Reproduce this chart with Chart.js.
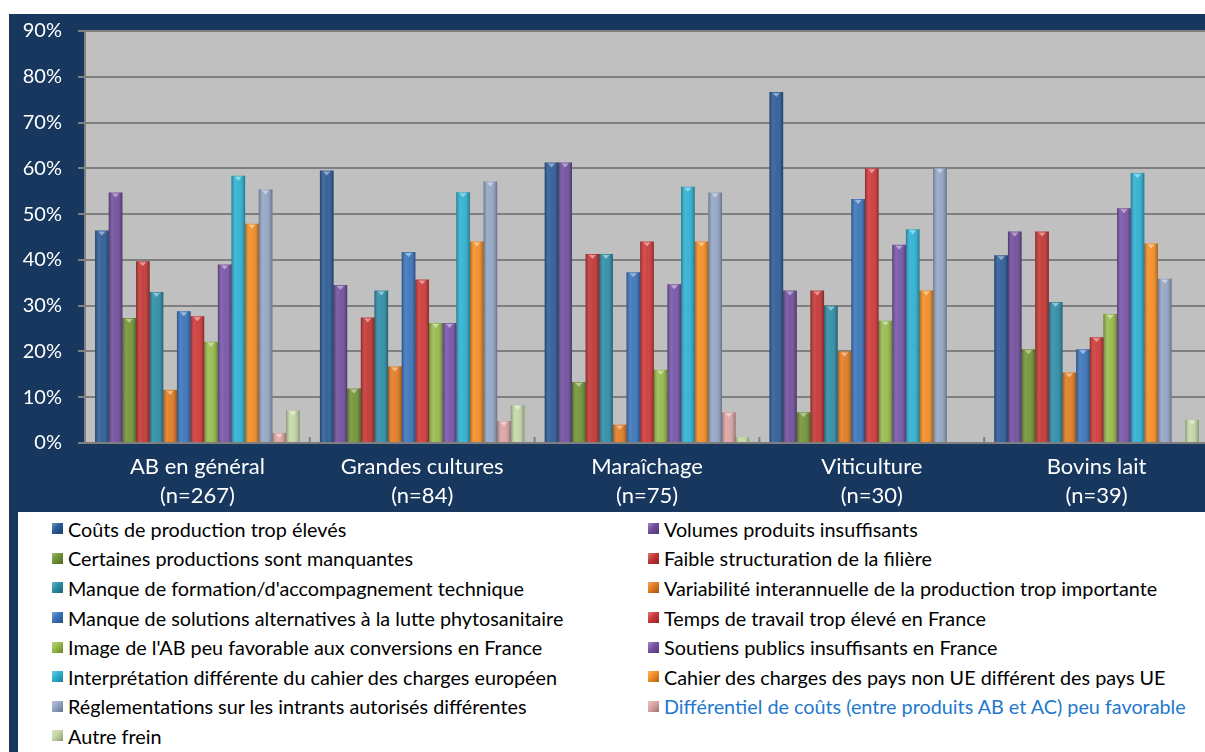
<!DOCTYPE html>
<html lang="fr">
<head>
<meta charset="utf-8">
<title>Freins à la conversion en AB</title>
<script src="https://cdn.jsdelivr.net/npm/chart.js@4.4.1/dist/chart.umd.min.js"></script>
<style>
  html, body { margin: 0; padding: 0; width: 1205px; height: 752px; overflow: hidden; background: #fff; }
  body { position: relative; font-family: Lato, "Open Sans", sans-serif; }
  #panel { position: absolute; left: 9px; top: 14px; width: 1200px; height: 498px; background: #17375e; }
  #strip { position: absolute; left: 9px; top: 512px; width: 9px; height: 240px; background: #17375e; }
  #chart { position: absolute; left: 0; top: 0; }
  #legend {
    position: absolute; left: 52px; top: 514px;
    display: grid; grid-template-columns: 596px 560px; grid-auto-rows: 29.6px;
    font-size: 19.8px; color: #000;
  }
  .item { display: flex; align-items: center; white-space: nowrap; }
  .box { width: 11px; height: 11px; margin-right: 5px; flex: none; }
</style>
</head>
<body>
<div id="panel"><canvas id="chart" width="1200" height="498"></canvas></div>
<div id="strip"></div>
<div id="legend"></div>

<script>
// categories (two-line labels)
var categories = [
  ['AB en général', '(n=267)'],
  ['Grandes cultures', '(n=84)'],
  ['Maraîchage', '(n=75)'],
  ['Viticulture', '(n=30)'],
  ['Bovins lait', '(n=39)']
]

var freins = [
  'Coûts de production trop élevés',
  'Volumes produits insuffisants',
  'Certaines productions sont manquantes',
  'Faible structuration de la filière',
  "Manque de formation/d'accompagnement technique",
  'Variabilité interannuelle de la production trop importante',
  'Manque de solutions alternatives à la lutte phytosanitaire',
  'Temps de travail trop élevé en France',
  "Image de l'AB peu favorable aux conversions en France",
  'Soutiens publics insuffisants en France',
  'Interprétation différente du cahier des charges européen',
  'Cahier des charges des pays non UE différent des pays UE',
  'Réglementations sur les intrants autorisés différentes',
  'Différentiel de coûts (entre produits AB et AC) peu favorable',
  'Autre frein'
]

// % de réponses par filière, dans l'ordre des freins
var abGeneral       = [46.4, 54.7, 27.3, 39.7, 33.0, 11.6, 28.8, 27.7, 22.1, 39.0, 58.4, 47.9, 55.4, 2.2, 7.1]
var grandesCultures = [59.5, 34.5, 11.9, 27.4, 33.3, 16.7, 41.7, 35.7, 26.2, 26.2, 54.8, 44.0, 57.1, 4.8, 8.3]
var maraichage      = [61.3, 61.3, 13.3, 41.3, 41.3, 4.0, 37.3, 44.0, 16.0, 34.7, 56.0, 44.0, 54.7, 6.7, 1.3]
var viticulture     = [76.7, 33.3, 6.7, 33.3, 30.0, 20.0, 53.3, 60.0, 26.7, 43.3, 46.7, 33.3, 60.0, 0, 0]
var bovinsLait      = [41.0, 46.2, 20.5, 46.2, 30.8, 15.4, 20.5, 23.1, 28.2, 51.3, 59.0, 43.6, 35.9, 0, 5.1]

var yTicks = [0, 10, 20, 30, 40, 50, 60, 70, 80, 90]

var couleurs = [
  '#2a5a96', '#6f4c9c', '#6f9332', '#c23431', '#2b8ba6', '#e27a1f', '#3872bb', '#cf3636',
  '#95ba49', '#7652a8', '#2bb0d2', '#f38c22', '#92a4c4', '#dba2a2', '#c3d6a6'
]

var filieres = [abGeneral, grandesCultures, maraichage, viticulture, bovinsLait]

var datasets = []
var i = 0
while (i < freins.length) {
    var serie = []
    for (var f = 0; f < filieres.length; f++) {
        serie.push(filieres[f][i])
    }
    datasets.push({
        label: freins[i],
        data: serie,
        backgroundColor: couleurs[i],
        borderWidth: 0,
        categoryPercentage: 0.91,
        barPercentage: 1
    })
    i++
}

// fond gris de la zone de tracé + petits traits entre les filières
var fondGris = {
    id: 'fondGris',
    beforeDraw: function (chart) {
        var a = chart.chartArea
        var ctx = chart.ctx
        ctx.save()
        ctx.fillStyle = '#c0c0c0'
        ctx.fillRect(a.left, a.top, a.right - a.left, a.bottom - a.top)
        ctx.restore()
    },
    afterDraw: function (chart) {
        var a = chart.chartArea
        var ctx = chart.ctx
        var x = chart.scales.x
        ctx.save()
        ctx.strokeStyle = '#7f7f7f'
        ctx.lineWidth = 2
        for (var k = 1; k < categories.length; k++) {
            var px = (x.getPixelForValue(k - 1) + x.getPixelForValue(k)) / 2
            ctx.beginPath()
            ctx.moveTo(px, a.bottom - 6)
            ctx.lineTo(px, a.bottom)
            ctx.stroke()
        }
        ctx.restore()
    }
}

// effet cylindre sur les barres
var relief = {
    id: 'relief',
    afterDatasetsDraw: function (chart) {
        var ctx = chart.ctx
        var a = chart.chartArea
        ctx.save()
        ctx.beginPath()
        ctx.rect(a.left, a.top, a.right - a.left, a.bottom - a.top)
        ctx.clip()
        chart.data.datasets.forEach(function (ds, d) {
            chart.getDatasetMeta(d).data.forEach(function (bar) {
                var h = bar.base - bar.y
                if (h <= 0) return
                var left = bar.x - bar.width / 2
                var g = ctx.createLinearGradient(left, 0, left + bar.width, 0)
                g.addColorStop(0, 'rgba(0,0,0,0.30)')
                g.addColorStop(0.3, 'rgba(255,255,255,0.12)')
                g.addColorStop(0.55, 'rgba(255,255,255,0.06)')
                g.addColorStop(1, 'rgba(0,0,0,0.32)')
                ctx.fillStyle = g
                ctx.fillRect(left, bar.y, bar.width, h)
                // petit chapeau en haut de la barre
                if (h > 5) {
                    ctx.fillStyle = 'rgba(255,255,255,0.45)'
                    ctx.beginPath()
                    ctx.moveTo(bar.x - 3.5, bar.y + 1)
                    ctx.lineTo(bar.x + 3.5, bar.y + 1)
                    ctx.lineTo(bar.x, bar.y + 5)
                    ctx.closePath()
                    ctx.fill()
                }
            })
        })
        ctx.restore()
    }
}

var config = {
    type: 'bar',
    data: { labels: categories, datasets: datasets },
    options: {
        responsive: false,
        animation: false,
        layout: { padding: { top: 17, right: 0, left: 0, bottom: 0 } },
        plugins: { legend: { display: false }, tooltip: { enabled: false } },
        scales: {
            x: {
                grid: { display: false, drawTicks: false },
                border: { display: false },
                ticks: {
                    color: '#ffffff',
                    font: { family: 'Lato', size: 22, lineHeight: 1.32 },
                    padding: 9,
                    maxRotation: 0
                },
                afterFit: function (s) { s.height = 69 }
            },
            y: {
                min: 0,
                max: 90,
                afterBuildTicks: function (s) {
                    s.ticks = yTicks.map(function (v) { return { value: v } })
                },
                grid: { color: '#7f7f7f', lineWidth: 2, tickLength: 7 },
                border: { display: true, color: '#7f7f7f', width: 2 },
                ticks: {
                    color: '#ffffff',
                    font: { family: 'Lato', size: 20 },
                    padding: 16,
                    callback: function (v) { return v + '%' }
                },
                afterFit: function (s) {
                    s.width = 76
                    s.paddingTop = 0
                    s.paddingBottom = 0
                }
            }
        }
    },
    plugins: [fondGris, relief]
}

var myChart = new Chart(document.getElementById('chart'), config)

// légende sur deux colonnes
var legende = document.getElementById('legend')
freins.forEach(function (nom, k) {
    var item = document.createElement('div')
    item.className = 'item'
    var box = document.createElement('span')
    box.className = 'box'
    box.style.background = 'linear-gradient(135deg, rgba(255,255,255,0.35), rgba(255,255,255,0) 45%, rgba(0,0,0,0.3)), ' + couleurs[k]
    var txt = document.createElement('span')
    txt.textContent = nom
    if (k === 13) txt.style.color = '#1f78cc'
    item.appendChild(box)
    item.appendChild(txt)
    legende.appendChild(item)
})
</script>
</body>
</html>
